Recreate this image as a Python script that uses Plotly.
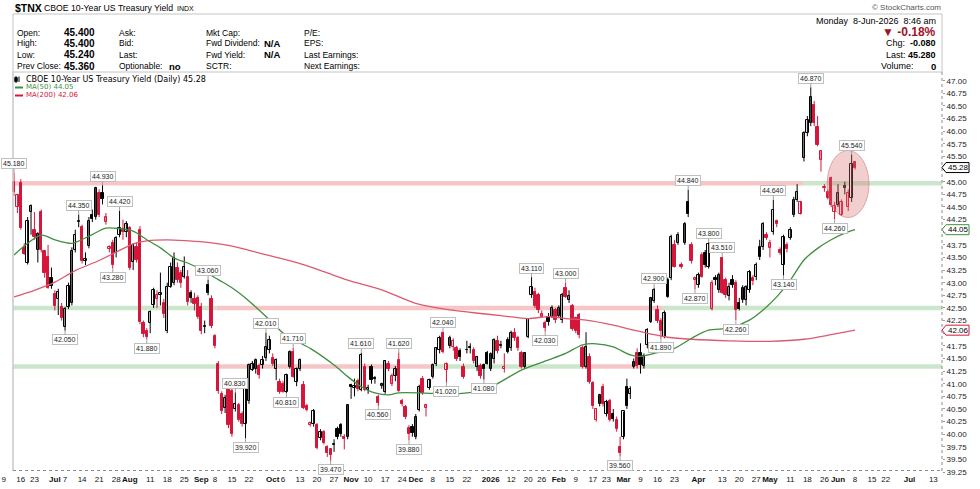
import numpy as np
import pandas as pd
import plotly.graph_objects as go

# ---------------- DATA ----------------
first_session = "2025-06-12"
market_holidays = ["2025-06-19", "2025-07-04", "2025-09-01", "2025-11-27", "2025-12-25",
                   "2026-01-01", "2026-01-19", "2026-02-16", "2026-04-03", "2026-05-25",
                   "2026-06-19", "2026-07-03"]

open_ = [
    45.00, 44.50, 44.97, 43.68, 43.40, 44.40, 44.05, 43.65, 44.40, 43.62,
    43.50, 43.09, 42.78, 42.68, 42.52, 42.12, 42.52, 42.60, 43.65, 44.20,
    44.10, 43.43, 43.72, 44.34, 44.30, 44.77, 44.78, 44.20, 43.66, 43.78,
    43.59, 43.95, 44.06, 44.00, 44.08, 43.41, 43.70, 44.05, 42.20, 42.05,
    42.20, 42.56, 42.68, 42.75, 42.60, 42.05, 42.92, 43.00, 43.30, 43.20,
    43.12, 43.12, 42.80, 42.68, 42.70, 42.52, 42.12, 42.95, 42.68, 41.95,
    41.40, 40.80, 40.52, 40.90, 40.85, 40.50, 40.58, 40.41, 40.20, 40.65,
    41.28, 41.30, 41.35, 41.37, 41.50, 41.67, 41.50, 41.30, 41.04, 41.00,
    40.84, 41.34, 41.63, 41.04, 41.30, 40.97, 40.55, 40.18, 40.21, 40.18,
    39.92, 40.05, 39.75, 39.70, 39.78, 40.11, 40.18, 39.95, 39.95, 40.97,
    40.92, 41.05, 40.87, 41.34, 40.87, 41.34, 41.12, 40.74, 40.95, 40.84,
    41.40, 41.00, 41.15, 41.47, 40.65, 40.54, 40.12, 40.15, 39.95, 40.48,
    41.10, 40.52, 40.91, 41.14, 41.40, 41.67, 42.00, 41.27, 41.75, 41.72,
    41.70, 41.65, 41.34, 41.67, 41.73, 41.67, 41.34, 41.35, 41.37, 41.60,
    41.30, 41.48, 41.85, 41.75, 41.30, 41.87, 41.70, 42.00, 41.90, 41.60,
    41.34, 41.93, 42.76, 42.82, 42.76, 42.33, 42.20, 42.33, 42.33, 42.46,
    42.35, 42.26, 42.89, 42.65, 42.53, 42.30, 42.36, 41.70, 41.34, 41.53,
    41.01, 40.28, 40.60, 40.94, 40.40, 40.65, 40.40, 40.28, 39.75, 39.95,
    40.94, 40.80, 41.34, 41.60, 41.60, 41.35, 41.77, 42.23, 42.63, 42.45,
    42.25, 41.93, 43.05, 43.09, 43.74, 43.78, 43.35, 43.78, 44.60, 43.74,
    43.05, 42.95, 43.55, 43.58, 43.32, 42.48, 43.10, 42.85, 43.48, 43.05,
    42.73, 43.05, 43.00, 42.60, 42.65, 42.65, 42.85, 43.10, 43.12, 43.71,
    43.71, 43.95, 43.68, 44.01, 44.22, 43.65, 43.35, 43.74, 43.88, 44.34,
    44.64, 44.37, 45.46, 45.96, 46.16, 46.52, 46.09, 45.43, 44.88, 44.80,
    45.07, 44.41, 44.54, 44.35, 44.88, 44.50, 44.67, 45.40]

high_ = [
    45.18, 44.76, 45.05, 43.78, 44.30, 44.55, 44.40, 44.00, 44.45, 43.65,
    43.75, 43.30, 42.85, 42.88, 42.60, 42.52, 43.00, 43.70, 44.05, 44.35,
    44.15, 43.60, 44.30, 44.45, 44.90, 44.85, 44.93, 44.38, 43.74, 43.85,
    43.92, 44.42, 44.25, 44.22, 44.12, 43.78, 43.80, 44.12, 42.25, 42.10,
    42.45, 42.90, 42.85, 43.20, 42.68, 43.00, 43.40, 43.60, 43.40, 43.25,
    43.52, 43.25, 42.85, 42.80, 42.75, 42.60, 42.25, 43.06, 42.75, 41.98,
    41.45, 40.85, 40.78, 40.95, 40.90, 40.83, 40.62, 40.45, 41.00, 41.40,
    41.45, 41.50, 41.40, 41.55, 42.01, 41.95, 41.60, 41.50, 41.10, 41.05,
    41.20, 41.66, 41.71, 41.32, 41.50, 41.05, 40.60, 40.25, 40.50, 40.22,
    40.10, 40.08, 39.78, 39.72, 39.90, 40.15, 40.22, 40.00, 40.58, 41.00,
    41.10, 41.10, 41.61, 41.40, 40.98, 41.38, 41.15, 40.78, 41.02, 41.47,
    41.45, 41.20, 41.35, 41.62, 40.70, 40.58, 40.18, 40.20, 40.40, 40.98,
    41.15, 40.60, 41.10, 41.40, 41.72, 41.95, 42.04, 41.42, 41.95, 41.90,
    41.75, 41.70, 41.40, 41.85, 41.80, 41.72, 41.55, 41.40, 41.40, 41.65,
    41.62, 41.90, 41.95, 41.85, 41.60, 41.92, 42.05, 42.10, 41.95, 41.65,
    41.62, 42.30, 43.11, 42.90, 42.80, 42.45, 42.25, 42.40, 42.55, 42.50,
    42.55, 42.80, 43.00, 42.85, 42.58, 42.33, 42.40, 41.75, 42.02, 41.60,
    41.05, 40.52, 40.80, 41.00, 40.68, 40.70, 40.50, 40.35, 39.95, 40.45,
    41.10, 40.95, 41.50, 41.70, 41.80, 41.60, 42.10, 42.72, 42.90, 42.55,
    42.30, 42.45, 43.10, 43.95, 43.85, 44.00, 43.40, 44.20, 44.84, 43.80,
    43.12, 43.20, 43.60, 43.65, 43.80, 43.05, 43.15, 43.20, 43.51, 43.10,
    43.00, 43.15, 43.05, 42.70, 42.95, 42.95, 43.25, 43.15, 43.40, 43.85,
    44.20, 44.00, 43.85, 44.64, 44.25, 43.70, 43.95, 43.80, 44.10, 44.70,
    44.95, 44.62, 46.00, 46.30, 46.87, 46.60, 46.30, 45.62, 44.95, 44.85,
    45.10, 44.60, 44.95, 44.65, 45.00, 44.85, 45.54, 45.40]

low_ = [
    44.72, 44.38, 44.05, 43.55, 43.36, 43.95, 43.85, 43.40, 43.60, 43.10,
    42.88, 42.88, 42.45, 42.36, 42.25, 42.05, 42.48, 42.55, 43.60, 44.10,
    43.38, 43.35, 43.68, 44.20, 44.25, 44.30, 44.55, 44.15, 43.60, 43.28,
    43.50, 43.90, 43.85, 43.90, 43.25, 43.25, 43.40, 42.18, 41.92, 41.88,
    42.00, 42.50, 42.50, 42.55, 42.30, 42.00, 42.90, 42.95, 43.00, 42.90,
    43.08, 42.55, 42.60, 42.45, 42.28, 41.98, 42.00, 42.75, 42.10, 41.70,
    40.80, 40.40, 40.42, 40.12, 39.95, 40.45, 40.25, 40.15, 39.92, 40.60,
    41.25, 41.20, 41.10, 41.30, 41.45, 41.60, 41.35, 41.07, 40.80, 40.82,
    40.81, 41.30, 41.12, 40.95, 41.25, 40.50, 40.45, 40.15, 40.15, 39.70,
    39.88, 39.80, 39.55, 39.47, 39.65, 39.90, 39.95, 39.70, 39.90, 40.70,
    40.75, 40.85, 40.85, 40.85, 40.80, 41.00, 41.00, 40.56, 40.90, 40.80,
    41.25, 40.95, 41.05, 40.84, 40.55, 40.30, 39.88, 39.95, 39.90, 40.45,
    40.78, 40.35, 40.88, 41.10, 41.35, 41.60, 41.60, 41.02, 41.70, 41.65,
    41.45, 41.45, 41.10, 41.60, 41.60, 41.40, 41.25, 41.10, 41.08, 41.38,
    41.25, 41.40, 41.60, 41.70, 41.22, 41.60, 41.65, 41.85, 41.65, 41.30,
    41.30, 41.90, 42.70, 42.50, 42.40, 42.30, 42.03, 42.15, 42.30, 42.20,
    42.30, 42.20, 42.70, 42.60, 42.05, 42.00, 41.90, 41.30, 41.30, 41.00,
    40.50, 40.25, 40.55, 40.55, 40.35, 40.25, 40.25, 40.05, 39.56, 39.90,
    40.50, 40.70, 41.30, 41.30, 41.20, 41.30, 41.70, 42.20, 42.60, 42.20,
    41.89, 41.90, 42.70, 43.05, 43.30, 43.75, 43.28, 43.75, 44.30, 43.38,
    42.87, 42.90, 43.10, 43.30, 43.28, 42.45, 42.95, 42.80, 42.78, 42.70,
    42.65, 42.90, 42.26, 42.45, 42.60, 42.55, 42.80, 42.95, 43.05, 43.45,
    43.65, 43.85, 43.50, 43.95, 44.10, 43.55, 43.14, 43.60, 43.85, 44.30,
    44.60, 44.35, 45.40, 45.90, 46.10, 46.10, 45.70, 45.20, 44.80, 44.65,
    44.50, 44.26, 44.50, 44.32, 44.75, 44.42, 44.60, 45.24]

close_ = [
    44.80, 44.74, 44.08, 43.57, 44.22, 44.52, 43.90, 43.97, 43.65, 43.20,
    42.90, 42.93, 42.53, 42.82, 42.30, 42.48, 42.93, 43.62, 43.95, 44.22,
    43.42, 43.46, 44.22, 44.26, 44.88, 44.35, 44.65, 44.30, 43.70, 43.36,
    43.88, 44.08, 44.00, 44.16, 43.30, 43.74, 43.45, 42.22, 41.98, 41.92,
    42.42, 42.85, 42.75, 42.80, 42.38, 42.92, 43.31, 43.48, 43.05, 43.00,
    43.31, 42.62, 42.70, 42.58, 42.33, 42.05, 42.14, 42.80, 42.15, 41.75,
    40.85, 40.45, 40.72, 40.18, 40.00, 40.60, 40.28, 40.21, 40.94, 41.37,
    41.40, 41.47, 41.17, 41.47, 41.73, 41.86, 41.40, 41.47, 40.84, 40.83,
    41.17, 41.63, 41.14, 41.30, 41.47, 40.52, 40.48, 40.22, 40.45, 39.72,
    40.05, 39.82, 39.62, 39.58, 39.80, 39.95, 40.00, 39.90, 40.58, 40.94,
    40.96, 40.90, 41.57, 40.87, 40.92, 41.07, 41.10, 40.61, 41.00, 41.45,
    41.30, 41.15, 41.30, 40.86, 40.60, 40.35, 40.00, 40.02, 40.35, 40.94,
    40.81, 40.57, 41.07, 41.37, 41.70, 41.90, 41.62, 41.40, 41.90, 41.85,
    41.48, 41.52, 41.13, 41.66, 41.71, 41.44, 41.52, 41.15, 41.30, 41.40,
    41.58, 41.87, 41.65, 41.77, 41.33, 41.63, 42.00, 41.90, 41.70, 41.34,
    41.60, 42.29, 42.92, 42.53, 42.46, 42.38, 42.10, 42.23, 42.49, 42.26,
    42.50, 42.76, 42.72, 42.73, 42.08, 42.05, 41.96, 41.34, 41.73, 41.03,
    40.55, 40.50, 40.78, 40.60, 40.64, 40.28, 40.30, 40.10, 39.62, 40.45,
    40.55, 40.90, 41.43, 41.35, 41.38, 41.55, 42.06, 42.69, 42.86, 42.25,
    42.05, 42.40, 42.72, 43.91, 43.32, 43.94, 43.32, 44.17, 44.37, 43.42,
    43.09, 43.15, 43.12, 43.35, 43.77, 43.00, 43.05, 43.15, 42.80, 42.75,
    42.92, 42.95, 42.46, 42.47, 42.89, 42.92, 43.21, 43.04, 43.35, 43.51,
    44.17, 43.89, 43.78, 44.44, 44.16, 43.58, 43.91, 43.66, 44.05, 44.64,
    44.80, 44.60, 45.96, 46.22, 46.68, 46.16, 45.73, 45.60, 44.90, 44.67,
    44.54, 44.52, 44.77, 44.60, 44.92, 44.77, 45.36, 45.28]

# moving averages, sampled on session numbers (0 = first session)
ma50_day = [0, 8, 12, 17, 22, 27, 31, 35, 39, 43, 47, 51, 55, 60, 64, 69, 74, 80, 87, 94,
            98, 102, 105, 110, 113, 123, 129, 135, 141, 149, 157, 162, 167, 171, 176, 181,
            184, 188, 194, 199, 204, 210, 216, 220, 224, 228, 232, 236, 240, 244, 247]
ma50_val = [43.55, 43.94, 43.85, 43.78, 43.92, 44.08, 44.07, 44.02, 43.85, 43.69, 43.49,
            43.39, 43.26, 43.06, 42.90, 42.64, 42.33, 41.95, 41.70, 41.37, 41.14, 40.94,
            40.84, 40.78, 40.82, 40.81, 40.80, 40.84, 40.97, 41.27, 41.47, 41.60, 41.77,
            41.79, 41.73, 41.57, 41.54, 41.60, 41.70, 41.90, 42.06, 42.10, 42.26, 42.46,
            42.72, 43.05, 43.45, 43.68, 43.85, 43.98, 44.05]
ma200_day = [0, 6, 12, 18, 25, 31, 35, 39, 45, 51, 57, 63, 69, 76, 84, 91, 98, 108, 118,
             128, 137, 143, 151, 157, 162, 168, 176, 182, 188, 192, 199, 210, 222, 232, 240, 247]
ma200_val = [42.72, 42.85, 43.01, 43.24, 43.44, 43.64, 43.77, 43.83, 43.85, 43.83, 43.80,
             43.74, 43.64, 43.52, 43.38, 43.22, 43.05, 42.86, 42.59, 42.46, 42.39, 42.35,
             42.29, 42.33, 42.29, 42.26, 42.16, 42.06, 41.97, 41.92, 41.88, 41.85, 41.84,
             41.88, 41.97, 42.06]

# high/low call-outs (session number, H = high / L = low)
label_day = [0, 15, 19, 26, 29, 31, 39, 57, 65, 68, 74, 80, 82, 93, 102, 107, 113, 116,
             126, 127, 138, 152, 156, 162, 178, 188, 190, 198, 200, 204, 208, 212, 223,
             226, 234, 241, 246]
label_kind = ["H", "L", "H", "H", "L", "H", "L", "H", "H", "L", "H", "L", "H", "L", "H",
              "L", "H", "L", "H", "L", "L", "H", "L", "H", "L", "H", "L", "H", "L", "H",
              "H", "L", "H", "L", "H", "L", "H"]

# support / resistance bands: level, list of (from session, to session, colour key)
band_levels = [44.97, 42.50, 41.34]
band_segments = [
    [(-0.3, 231.7, "r"), (231.7, 273.0, "g")],
    [(-0.3, 59.5, "g"), (59.5, 190.3, "r"), (190.3, 273.0, "g")],
    [(-0.3, 59.5, "g"), (59.5, 122.8, "r"), (122.8, 167.7, "g"), (167.7, 184.7, "r"),
     (184.7, 273.0, "g")],
]

tick_dates = ["2025-06-09", "2025-06-16", "2025-06-23", "2025-07-01", "2025-07-07", "2025-07-14",
              "2025-07-21", "2025-07-28", "2025-08-01", "2025-08-11", "2025-08-18", "2025-08-25",
              "2025-09-02", "2025-09-08", "2025-09-15", "2025-09-22", "2025-10-01", "2025-10-06",
              "2025-10-13", "2025-10-20", "2025-10-27", "2025-11-03", "2025-11-10", "2025-11-17",
              "2025-11-24", "2025-12-01", "2025-12-08", "2025-12-15", "2025-12-22", "2026-01-02",
              "2026-01-12", "2026-01-20", "2026-01-26", "2026-02-02", "2026-02-09", "2026-02-17",
              "2026-02-23", "2026-03-02", "2026-03-09", "2026-03-16", "2026-03-23", "2026-04-01",
              "2026-04-13", "2026-04-20", "2026-04-27", "2026-05-01", "2026-05-11", "2026-05-18",
              "2026-05-26", "2026-06-01", "2026-06-08", "2026-06-15", "2026-06-22", "2026-07-01",
              "2026-07-13"]
tick_labels = ["9", "16", "23", "Jul", "7", "14", "21", "28", "Aug", "11", "18", "25", "Sep", "8",
               "15", "22", "Oct", "6", "13", "20", "27", "Nov", "10", "17", "24", "Dec", "8", "15",
               "22", "2026", "12", "20", "26", "Feb", "9", "17", "23", "Mar", "9", "16", "23", "Apr",
               "13", "20", "27", "May", "11", "18", "26", "Jun", "8", "15", "22", "Jul", "13"]
bold_labels = {"Jul", "Aug", "Sep", "Oct", "Nov", "Dec", "2026", "Feb", "Mar", "Apr", "May", "Jun"}

y_ticks = [39.25 + 0.25 * k for k in range(32)]

quote_rows = [("Open:", "45.400"), ("High:", "45.400"), ("Low:", "45.240"), ("Prev Close:", "45.360")]
col2 = [("Ask:", ""), ("Bid:", ""), ("Last:", ""), ("Optionable:", "no")]
col3 = [("Mkt Cap:", ""), ("Fwd Dividend:", "N/A"), ("Fwd Yield:", "N/A"), ("SCTR:", "")]
col4 = ["P/E:", "EPS:", "Last Earnings:", "Next Earnings:"]
last_price, ma50_last, ma200_last = 45.28, 44.05, 42.06

# ---------------- GEOMETRY (pixel layout) ----------------
W, H = 980, 489
PL, PR, PT, PB = 0, 942, 72, 473
Y47_PX, PX_PER_PT = 80.7, 50.5
X0_PX, PX_PER_DAY = 14.0, 3.405
y_range = [47 - (PB - Y47_PX) / PX_PER_PT, 47 + (Y47_PX - PT) / PX_PER_PT]
x_range = [(PL - X0_PX) / PX_PER_DAY, (PR - X0_PX) / PX_PER_DAY]


def xp(px):
    return (px - PL) / (PR - PL)


def yp(py):
    return (PB - py) / (PB - PT)


def yv(v):
    return (v - y_range[0]) / (y_range[1] - y_range[0])


SANS = "Liberation Sans, Arial, sans-serif"
DEJA = "DejaVu Sans, Verdana, sans-serif"
RED = "#d5173b"
GREEN_MA = "#3f8f3f"
RED_MA = "#dc5a70"
BAND = {"r": "#f6c6c6", "g": "#cbe6cb"}

# ---------------- calendar ----------------
cal = pd.bdate_range("2025-06-02", "2026-07-31", freq="C", holidays=market_holidays)
cal_pos = {d.strftime("%Y-%m-%d"): i for i, d in enumerate(cal)}
base_pos = cal_pos[first_session]
tick_vals = [cal_pos[d] - base_pos for d in tick_dates]
tick_text = [f"<b>{t}</b>" if t in bold_labels else t for t in tick_labels]

n = min(len(open_), len(high_), len(low_), len(close_))
O = np.array(open_[:n]); Hh = np.array(high_[:n]); L = np.array(low_[:n]); C = np.array(close_[:n])
idx = np.arange(n)
prev = np.concatenate([[O[0]], C[:-1]])
hollow = C >= O
redday = C < prev

fig = go.Figure()

# wicks
for is_red, col in [(False, "#000000"), (True, RED)]:
    m = redday == is_red
    xs, ys = [], []
    for i in idx[m]:
        xs += [i, i, None]
        ys += [L[i], Hh[i], None]
    fig.add_trace(go.Scatter(x=xs, y=ys, mode="lines", line=dict(color=col, width=1),
                             hoverinfo="skip", showlegend=False))

# bodies
body_base = np.minimum(O, C)
body_h = np.maximum(np.abs(C - O), 0.012)
for hol, is_red, fill, lc in [(True, False, "white", "#000000"), (True, True, "white", RED),
                              (False, False, "#000000", "#000000"), (False, True, RED, RED)]:
    m = (hollow == hol) & (redday == is_red)
    fig.add_trace(go.Bar(x=idx[m], y=body_h[m], base=body_base[m], width=0.68,
                         marker=dict(color=fill, line=dict(color=lc, width=1)),
                         hoverinfo="skip", showlegend=False))

# moving averages
fig.add_trace(go.Scatter(x=ma200_day, y=ma200_val, mode="lines",
                         line=dict(color=RED_MA, width=1.3, shape="spline", smoothing=0.8),
                         hoverinfo="skip", showlegend=False))
fig.add_trace(go.Scatter(x=ma50_day, y=ma50_val, mode="lines",
                         line=dict(color=GREEN_MA, width=1.3, shape="spline", smoothing=0.8),
                         hoverinfo="skip", showlegend=False))

shapes = []
# bands
for lvl, segs in zip(band_levels, band_segments):
    for a, b, ck in segs:
        shapes.append(dict(type="rect", xref="x", yref="y", x0=a, x1=b, y0=lvl - 0.045,
                           y1=lvl + 0.045, fillcolor=BAND[ck], line=dict(width=0), layer="below"))

# highlight ellipse round the last sessions
k0 = n - 7
shapes.append(dict(type="circle", xref="x", yref="y", x0=n - 1 - 8.2, x1=n - 1 + 4.1,
                   y0=L[k0:].min() + 0.03, y1=Hh[k0:].max() + 0.08,
                   fillcolor="rgba(214,110,110,0.33)", line=dict(color="rgba(214,110,110,0.55)", width=1),
                   layer="above"))

# frame lines
shapes += [
    dict(type="rect", xref="paper", yref="paper", x0=xp(13), x1=xp(942), y0=yp(72), y1=yp(14),
         line=dict(color="#c4c4c4", width=1)),
    dict(type="line", xref="paper", yref="paper", x0=xp(13), x1=xp(13), y0=yp(471), y1=yp(72),
         line=dict(color="#c8c8c8", width=1.5)),
    dict(type="line", xref="paper", yref="paper", x0=xp(942), x1=xp(942), y0=yp(471), y1=yp(72),
         line=dict(color="#8a8a8a", width=1, dash="dot")),
    dict(type="line", xref="paper", yref="paper", x0=xp(13), x1=xp(942), y0=yp(470.5), y1=yp(470.5),
         line=dict(color="#8a8a8a", width=1, dash="dot")),
]
# legend glyphs
shapes += [
    dict(type="line", xref="paper", yref="paper", x0=xp(16), x1=xp(16), y0=yp(83), y1=yp(76),
         line=dict(color="#000", width=1)),
    dict(type="rect", xref="paper", yref="paper", x0=xp(14.5), x1=xp(17.5), y0=yp(81.5), y1=yp(77.5),
         fillcolor="#000", line=dict(color="#000", width=0.5)),
    dict(type="line", xref="paper", yref="paper", x0=xp(19), x1=xp(19), y0=yp(82), y1=yp(76.5),
         line=dict(color="#000", width=1)),
    dict(type="line", xref="paper", yref="paper", x0=xp(15), x1=xp(23), y0=yp(87.5), y1=yp(87.5),
         line=dict(color=GREEN_MA, width=2)),
    dict(type="line", xref="paper", yref="paper", x0=xp(15), x1=xp(23), y0=yp(95.5), y1=yp(95.5),
         line=dict(color=RED, width=2)),
]
markers = [(last_price, "#000000"), (ma50_last, GREEN_MA), (ma200_last, RED)]
# price markers on the axis
for v, col in markers:
    shapes.append(dict(type="path", xref="paper", yref="paper", xsizemode="pixel", ysizemode="pixel",
                       xanchor=1.0, yanchor=yv(v), path="M 0 0 L 4 -5 L 27 -5 L 27 5 L 4 5 Z",
                       fillcolor="white", line=dict(color=col, width=1)))

ann = []


def txt(x, y, s, size=9, color="#000", bold=False, anchor="left", family=SANS):
    return dict(x=xp(x), y=yp(y), xref="paper", yref="paper", text=(f"<b>{s}</b>" if bold else s),
                showarrow=False, xanchor=anchor, yanchor="middle",
                font=dict(size=size, color=color, family=family))


ann += [txt(13, 8, "$TNX", 10.5, bold=True), txt(42, 8, "CBOE 10-Year US Treasury Yield", 8.7),
        txt(175, 8.5, "INDX", 7)]
rows_y = [33, 43.5, 54.5, 66]
for (lab, val), (l2, v2), (l3, v3), l4, yy in zip(quote_rows, col2, col3, col4, rows_y):
    ann.append(txt(15, yy, lab, 8.5))
    ann.append(txt(62, yy, val, 10, bold=True))
    ann.append(txt(117, yy, l2, 8.5))
    if v2:
        ann.append(txt(167, yy + 0.5, v2, 9.5, bold=True))
    ann.append(txt(204, yy, l3, 8.5))
    if v3:
        ann.append(txt(262, yy, v3, 9.5, bold=True))
    ann.append(txt(302, yy, l4, 8.5))

ann += [
    txt(943, 7.5, "© StockCharts.com", 8, "#555", anchor="right"),
    txt(938, 20.5, "Monday  8-Jun-2026  8:46 am", 9, anchor="right"),
    txt(938, 32.5, "▼ -0.18%", 12, "#a0112b", bold=True, anchor="right"),
    txt(938, 43.5, "Chg:  <b>-0.080</b>", 9, anchor="right"),
    txt(938, 54.5, "Last: <b>45.280</b>", 9, anchor="right"),
    txt(916, 66, "Volume:", 9, anchor="right"),
    txt(938, 66, "0", 9.5, bold=True, anchor="right"),
    txt(24, 79.5, f"CBOE 10-Year US Treasury Yield (Daily) {last_price:.2f}", 8, family=DEJA),
    txt(24, 87.5, f"MA(50) {ma50_last:.2f}", 7, GREEN_MA, family=DEJA),
    txt(24, 95.5, f"MA(200) {ma200_last:.2f}", 7, RED, family=DEJA),
]

for v, col in markers:
    ann.append(dict(x=1.0, y=v, xref="paper", yref="y", text=f"{v:.2f}", showarrow=False,
                    xanchor="left", yanchor="middle", xshift=4,
                    font=dict(size=8, color="#000", family=SANS)))

for d, kind in zip(label_day, label_kind):
    v = Hh[d] if kind == "H" else L[d]
    ann.append(dict(x=d, y=v, xref="x", yref="y", text=f"{v:.3f}", showarrow=True,
                    arrowhead=0, arrowwidth=1, arrowcolor="#a0a0a0", ax=0,
                    ay=(-9 if kind == "H" else 9), standoff=0,
                    bgcolor="white", bordercolor="#c0c0c0", borderwidth=1, borderpad=1,
                    font=dict(size=7, color="#222", family=SANS)))

# y tick labels hidden where an axis marker covers them
y_text = [("" if any(abs(t - v) < 0.1 for v, _ in markers) else f"{t:.2f}") for t in y_ticks]

fig.update_layout(
    width=W, height=H, margin=dict(l=PL, r=W - PR, t=PT, b=H - PB),
    paper_bgcolor="white", plot_bgcolor="white", barmode="overlay", bargap=0,
    showlegend=False, shapes=shapes, annotations=ann,
    xaxis=dict(range=x_range, tickmode="array", tickvals=tick_vals, ticktext=tick_text,
               tickangle=0, showgrid=False, zeroline=False, showline=False, ticks="",
               tickfont=dict(size=8, color="#111", family=SANS), fixedrange=True),
    yaxis=dict(range=y_range, side="right", tickmode="array", tickvals=y_ticks,
               ticktext=y_text, showgrid=False, zeroline=False,
               showline=False, ticks="outside", ticklen=2, tickcolor="#999",
               tickfont=dict(size=8, color="#222", family=SANS), fixedrange=True),
)

fig.write_html("out.html")
